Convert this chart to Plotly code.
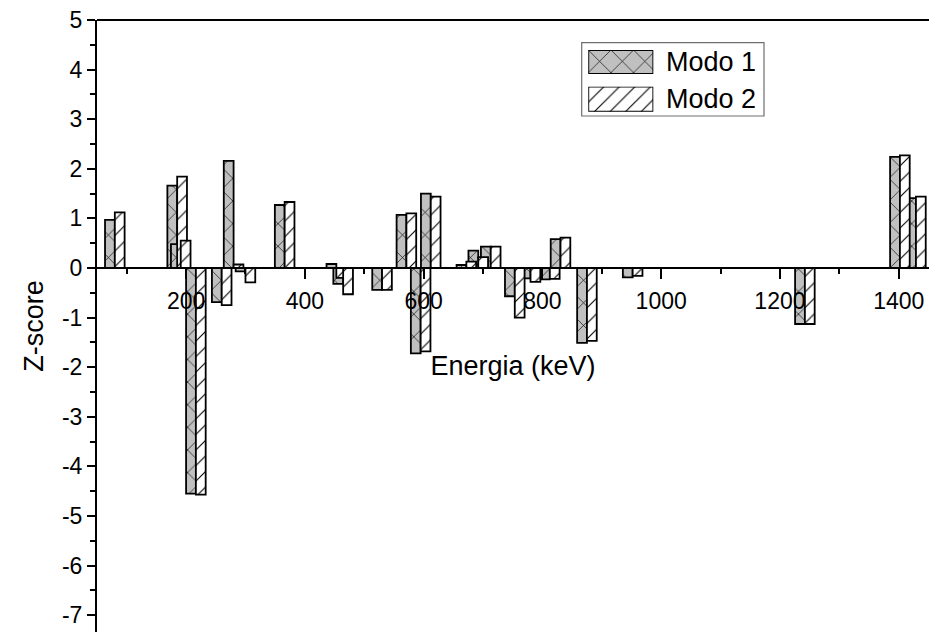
import plotly.graph_objects as go

# Data (pair centre energy in keV)
energia = [80, 185, 191, 216.5, 260, 280, 300, 366, 453, 464.5, 530, 571, 595, 612,
           672, 692, 713, 753.5, 780, 812.5, 830.5, 875, 952, 1242, 1402, 1429]
modo1 = [0.97, 1.66, 0.48, -4.55, -0.69, 2.16, -0.07, 1.27, 0.08, -0.32, -0.44, 1.07,
         -1.72, 1.50, 0.06, 0.35, 0.43, -0.57, -0.21, -0.23, 0.58, -1.51, -0.19, -1.13,
         2.24, 1.41]
modo2 = [1.12, 1.84, 0.55, -4.57, -0.75, 0.07, -0.29, 1.33, -0.20, -0.53, -0.44, 1.10,
         -1.68, 1.44, 0.13, 0.22, 0.43, -1.00, -0.28, -0.22, 0.61, -1.47, -0.16, -1.13,
         2.27, 1.44]
series_names = ["Modo 1", "Modo 2"]
x_ticks = [200, 400, 600, 800, 1000, 1200, 1400]
y_ticks = list(range(-7, 6))
y_ticktext = [str(v) for v in y_ticks]

BAR_W = 16.5
FONT = "Liberation Sans, Arial, sans-serif"
GREY = "#c0c0c0"
EDGE = 1.8

pat1 = dict(shape="x", bgcolor=GREY, fgcolor="black", size=16, solidity=0.08, fillmode="replace")
pat2 = dict(shape="/", bgcolor="white", fgcolor="black", size=11, solidity=0.1, fillmode="replace")

fig = go.Figure()
fig.add_trace(go.Bar(
    x=energia, y=modo1, name=series_names[0], width=BAR_W, offset=-BAR_W,
    marker=dict(color=GREY, pattern=pat1, line=dict(color="black", width=EDGE)),
    showlegend=False))
fig.add_trace(go.Bar(
    x=energia, y=modo2, name=series_names[1], width=BAR_W, offset=0,
    marker=dict(color="white", pattern=pat2, line=dict(color="black", width=EDGE)),
    showlegend=False))

# Legend swatches drawn as bars in small inset axes
fig.add_trace(go.Bar(x=[0], y=[1], width=1, xaxis="x2", yaxis="y2", showlegend=False,
                     hoverinfo="skip", name=series_names[0],
                     marker=dict(color=GREY, pattern=pat1, line=dict(color="black", width=EDGE))))
fig.add_trace(go.Bar(x=[0], y=[1], width=1, xaxis="x3", yaxis="y3", showlegend=False,
                     hoverinfo="skip", name=series_names[1],
                     marker=dict(color="white", pattern=pat2, line=dict(color="black", width=EDGE))))

W, H = 929, 632
L, R, T, B = 97, 0, 20, 0
pw, ph = W - L - R, H - T - B

def px_x(px):
    return (px - L) / pw

def px_y(py):
    return (H - B - py) / ph

zero_pos = px_y(268)

hidden = dict(visible=False, range=[-0.5, 0.5], fixedrange=True)
hiddeny = dict(visible=False, range=[0, 1], fixedrange=True)

fig.update_layout(
    width=W, height=H,
    margin=dict(l=L, r=R, t=T, b=B),
    paper_bgcolor="white", plot_bgcolor="white",
    barmode="overlay",
    font=dict(family=FONT, color="black", size=23),
    xaxis=dict(
        range=[50, 1451], anchor="free", position=zero_pos,
        tickvals=x_ticks, ticks="outside", ticklen=10, tickwidth=2, tickcolor="black",
        showline=True, linecolor="black", linewidth=2, showgrid=False, zeroline=False,
        tickfont=dict(size=23, family=FONT), ticklabelstandoff=2,
        minor=dict(dtick=100, tick0=0, ticks="outside", ticklen=5, tickwidth=2,
                   tickcolor="black", showgrid=False),
        title=dict(text="Energia (keV)", font=dict(size=27, family=FONT), standoff=43),
    ),
    yaxis=dict(
        range=[-7.34, 5], tickvals=y_ticks, ticktext=y_ticktext, ticks="outside",
        ticklen=8, tickwidth=2,
        tickcolor="black", showline=True, linecolor="black", linewidth=2,
        showgrid=False, zeroline=False, tickfont=dict(size=23, family=FONT),
        minor=dict(dtick=0.5, tick0=0, ticks="outside", ticklen=5, tickwidth=2,
                   tickcolor="black", showgrid=False),
        title=dict(text="Z-score", font=dict(size=27, family=FONT), standoff=10),
    ),
    xaxis2=dict(domain=[px_x(588.3), px_x(653.3)], anchor="y2", **hidden),
    yaxis2=dict(domain=[px_y(74), px_y(50)], anchor="x2", **hiddeny),
    xaxis3=dict(domain=[px_x(588.3), px_x(653.3)], anchor="y3", **hidden),
    yaxis3=dict(domain=[px_y(111.7), px_y(86.7)], anchor="x3", **hiddeny),
    shapes=[
        dict(type="line", xref="paper", yref="paper", x0=0, x1=1, y0=1, y1=1,
             line=dict(color="black", width=2)),
        dict(type="rect", xref="paper", yref="paper", layer="below",
             x0=px_x(581.7), x1=px_x(764), y0=px_y(116), y1=px_y(42.7),
             line=dict(color="#6e6e6e", width=1.2), fillcolor="white"),
    ],
    annotations=[
        dict(text=series_names[0], xref="paper", yref="paper", x=px_x(664), y=px_y(62),
             xanchor="left", yanchor="middle", showarrow=False,
             font=dict(size=27, family=FONT)),
        dict(text=series_names[1], xref="paper", yref="paper", x=px_x(664), y=px_y(99),
             xanchor="left", yanchor="middle", showarrow=False,
             font=dict(size=27, family=FONT)),
    ],
)

fig.write_html("out.html")
